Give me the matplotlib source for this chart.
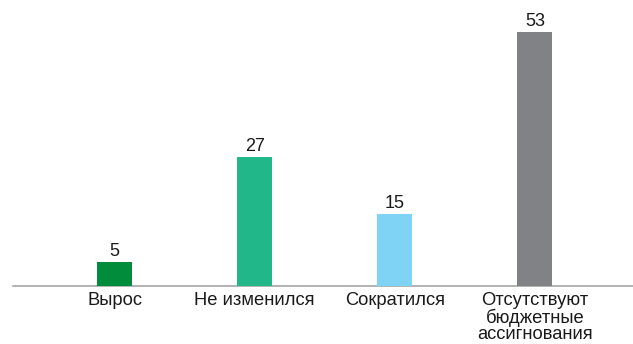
import matplotlib.pyplot as plt

categories = ['Вырос', 'Не изменился', 'Сократился',
              'Отсутствуют\nбюджетные\nассигнования']
values = [5, 27, 15, 53]
colors = ['#008C3A', '#22B788', '#7FD4F5', '#818285']

plt.rcParams['font.family'] = ['Liberation Sans', 'DejaVu Sans']

fig = plt.figure(figsize=(6.33, 3.44), dpi=100)
# axes box: left edge at the start of the baseline, bottom on the baseline
ax = fig.add_axes([13 / 633, (344 - 286) / 344, 620 / 633, 286 / 344])

x = range(len(categories))
bars = ax.bar(x, values, width=0.25, color=colors, zorder=3)

for rect, v in zip(bars, values):
    ax.annotate(str(v), (rect.get_x() + rect.get_width() / 2, v),
                xytext=(0, 1.5), textcoords='offset points',
                ha='center', va='bottom', fontsize=13, color='#1a1a1a')

ax.set_xlim(-0.725, 3.70)
ax.set_ylim(0, 59.7)

ax.set_xticks(list(x))
ax.set_xticklabels(categories, fontsize=13.2, color='#1a1a1a', linespacing=0.98)
ax.tick_params(axis='x', length=0, pad=4)
ax.set_yticks([])

for side in ['top', 'right', 'left']:
    ax.spines[side].set_visible(False)
ax.spines['bottom'].set_color('#A6A6A6')
ax.spines['bottom'].set_linewidth(1.2)

fig.savefig('out.png', dpi=100)
